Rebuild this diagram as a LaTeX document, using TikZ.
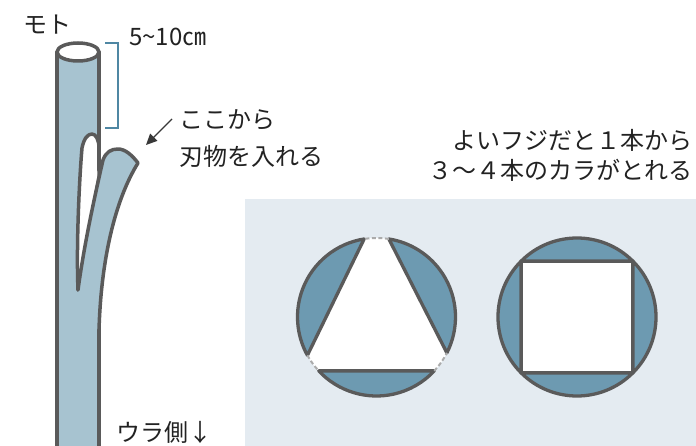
\documentclass[tikz,border=0pt]{standalone}
\usepackage{fontspec}
\setmainfont{Noto Sans CJK JP}
\usetikzlibrary{arrows.meta}
\definecolor{stemblue}{HTML}{A7C3D0}
\definecolor{segblue}{HTML}{6D9AB1}
\definecolor{outline}{HTML}{5A5A5A}
\definecolor{panel}{HTML}{E4EBF1}
\definecolor{bracketblue}{HTML}{4F87A3}
\definecolor{gapgrey}{HTML}{ABABAB}
\definecolor{ink}{HTML}{222222}
\begin{document}
\begin{tikzpicture}[x=1pt,y=-1pt,
  label/.style={font=\fontsize{24}{28}\selectfont, text=ink, inner sep=0pt},
  edge/.style={draw=outline, line width=3.5pt, line join=round, line cap=round},
  seg/.style={fill=segblue, draw=outline, line width=3.3pt, line join=round},
  gap/.style={draw=gapgrey, line width=2pt, dash pattern=on 4pt off 2.5pt},
  pointer/.style={draw=ink!90, line width=1.4pt, -{Triangle[length=11pt,width=10pt]}},
  span/.style={draw=bracketblue, line width=1.5pt},
]
\useasboundingbox (0,0) rectangle (696,446);
\fill[white] (0,0) rectangle (696,446);
\fill[panel] (245,199) rectangle (696,446);

% --- stem ---------------------------------------------------------
\fill[stemblue] (57,52) -- (57,450) -- (99,450) -- (99,52) -- cycle;

% slit opened by the cut
\path[fill=white, edge] (78,290) .. controls (76,240) and (80,170) .. (82,148)
  .. controls (84,138) and (88,134) .. (92,134)
  .. controls (96,134) and (99,140) .. (99,148) -- (99,177)
  .. controls (94,205) and (85,250) .. (78,290) -- cycle;

% peeled tongue
\fill[stemblue] (78,290) .. controls (84,245) and (95,195) .. (103,160)
  .. controls (106,152) and (111,149) .. (118,149)
  .. controls (125,149) and (132,155) .. (138,163)
  .. controls (115,200) and (101,260) .. (99,330) -- (90,330) -- cycle;
\draw[edge] (78,290) .. controls (84,245) and (95,195) .. (103,160)
  .. controls (106,152) and (111,149) .. (118,149)
  .. controls (125,149) and (132,155) .. (138,163)
  .. controls (115,200) and (101,260) .. (99,330);

% stem sides and cut top
\draw[edge] (57,52) -- (57,450);
\draw[edge] (99,52) -- (99,170);
\draw[edge] (99,330) -- (99,450);
\draw[edge, fill=white] (78,52) ellipse [x radius=21, y radius=9];

% --- labels --------------------------------------------------------
\node[label, anchor=west] (moto) at (23,25) {モト};
\node[label, anchor=west] (len) at (129,37) {5\textasciitilde 10㎝};
\node[label, anchor=west] (koko) at (179,120) {ここから};
\node[label, anchor=west] (hamono) at (179,156) {刃物を入れる};
\node[label, anchor=east] (yoi) at (693,140) {よいフジだと１本から};
\node[label, anchor=east] (kara) at (693,170) {３～４本のカラがとれる};
\node[label, anchor=west] (ura) at (116,432) {ウラ側↓};

% length bracket
\coordinate (bt0) at (105,43);
\coordinate (bt1) at (118,43);
\coordinate (bb1) at (118,128);
\coordinate (bb0) at (105,128);
\draw[span] (bt0) -- (bt1) -- (bb1) -- (bb0);

% pointer to the cut
\coordinate (ptail) at (172,119);
\coordinate (ptip) at (146,145);
\draw[pointer] (ptail) -- (ptip);

% --- cross section: three pieces -------------------------------------
\begin{scope}[shift={(376.5,317)}, yscale=-1]
  \coordinate (tri) at (0,0);
  \fill[white] (tri) circle[radius=79];
  \path[seg] (99:79) arc[start angle=99, end angle=209, radius=79] -- cycle;
  \path[seg] (223:79) arc[start angle=223, end angle=317, radius=79] -- cycle;
  \path[seg] (-27:79) arc[start angle=-27, end angle=81, radius=79] -- cycle;
  \draw[gap] (81:79) arc[start angle=81, end angle=99, radius=79];
  \draw[gap] (209:79) arc[start angle=209, end angle=223, radius=79];
  \draw[gap] (317:79) arc[start angle=317, end angle=333, radius=79];
\end{scope}

% --- cross section: four pieces --------------------------------------
\begin{scope}[shift={(577,317)}, yscale=-1]
  \coordinate (sq) at (0,0);
  \fill[white] (sq) circle[radius=79];
  \path[seg] (45:79) arc[start angle=45, end angle=135, radius=79] -- cycle;
  \path[seg] (135:79) arc[start angle=135, end angle=225, radius=79] -- cycle;
  \path[seg] (225:79) arc[start angle=225, end angle=315, radius=79] -- cycle;
  \path[seg] (315:79) arc[start angle=315, end angle=405, radius=79] -- cycle;
\end{scope}
\end{tikzpicture}
\end{document}
